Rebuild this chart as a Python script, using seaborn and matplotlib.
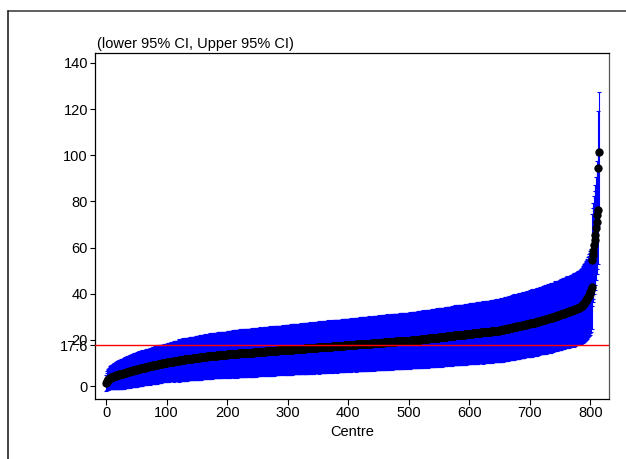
import numpy as np
import pandas as pd
import matplotlib
matplotlib.use("Agg")
import matplotlib.pyplot as plt
import seaborn as sns
from matplotlib.lines import Line2D

# ---- data (sorted centre estimates and 95% CI half-widths) ----
centre_rate = [
    1.3, 1.9, 2.3, 2.6, 2.9, 3.1, 3.3, 3.5, 3.6, 3.8,
    3.9, 4.0, 4.1, 4.2, 4.3, 4.4, 4.5, 4.6, 4.7, 4.8,
    4.9, 4.9, 5.0, 5.0, 5.1, 5.2, 5.3, 5.3, 5.4, 5.5,
    5.6, 5.6, 5.7, 5.8, 5.9, 6.0, 6.1, 6.2, 6.2, 6.3,
    6.4, 6.5, 6.5, 6.6, 6.7, 6.8, 6.8, 6.9, 7.0, 7.0,
    7.1, 7.2, 7.2, 7.3, 7.4, 7.4, 7.5, 7.6, 7.6, 7.7,
    7.8, 7.8, 7.9, 8.0, 8.0, 8.1, 8.2, 8.2, 8.3, 8.4,
    8.4, 8.5, 8.5, 8.6, 8.7, 8.7, 8.8, 8.8, 8.9, 9.0,
    9.0, 9.1, 9.1, 9.2, 9.3, 9.3, 9.4, 9.4, 9.5, 9.5,
    9.6, 9.7, 9.7, 9.8, 9.8, 9.9, 9.9, 10.0, 10.0, 10.1,
    10.1, 10.2, 10.2, 10.3, 10.3, 10.4, 10.4, 10.5, 10.5, 10.5,
    10.6, 10.6, 10.7, 10.7, 10.8, 10.8, 10.9, 10.9, 11.0, 11.0,
    11.0, 11.1, 11.1, 11.2, 11.2, 11.3, 11.3, 11.3, 11.4, 11.4,
    11.5, 11.5, 11.5, 11.6, 11.6, 11.7, 11.7, 11.7, 11.8, 11.8,
    11.8, 11.9, 11.9, 12.0, 12.0, 12.0, 12.1, 12.1, 12.1, 12.2,
    12.2, 12.2, 12.3, 12.3, 12.3, 12.4, 12.4, 12.4, 12.5, 12.5,
    12.5, 12.6, 12.6, 12.6, 12.7, 12.7, 12.7, 12.8, 12.8, 12.8,
    12.9, 12.9, 12.9, 12.9, 13.0, 13.0, 13.0, 13.1, 13.1, 13.1,
    13.1, 13.2, 13.2, 13.2, 13.3, 13.3, 13.3, 13.3, 13.4, 13.4,
    13.4, 13.4, 13.5, 13.5, 13.5, 13.5, 13.6, 13.6, 13.6, 13.6,
    13.7, 13.7, 13.7, 13.7, 13.8, 13.8, 13.8, 13.8, 13.8, 13.9,
    13.9, 13.9, 13.9, 13.9, 14.0, 14.0, 14.0, 14.0, 14.0, 14.1,
    14.1, 14.1, 14.1, 14.1, 14.2, 14.2, 14.2, 14.2, 14.2, 14.3,
    14.3, 14.3, 14.3, 14.3, 14.4, 14.4, 14.4, 14.4, 14.4, 14.5,
    14.5, 14.5, 14.5, 14.5, 14.6, 14.6, 14.6, 14.6, 14.6, 14.7,
    14.7, 14.7, 14.7, 14.7, 14.8, 14.8, 14.8, 14.8, 14.8, 14.9,
    14.9, 14.9, 14.9, 14.9, 15.0, 15.0, 15.0, 15.0, 15.0, 15.1,
    15.1, 15.1, 15.1, 15.1, 15.2, 15.2, 15.2, 15.2, 15.2, 15.3,
    15.3, 15.3, 15.3, 15.3, 15.4, 15.4, 15.4, 15.4, 15.4, 15.5,
    15.5, 15.5, 15.5, 15.5, 15.6, 15.6, 15.6, 15.6, 15.6, 15.7,
    15.7, 15.7, 15.7, 15.7, 15.8, 15.8, 15.8, 15.8, 15.8, 15.9,
    15.9, 15.9, 15.9, 15.9, 16.0, 16.0, 16.0, 16.0, 16.0, 16.1,
    16.1, 16.1, 16.1, 16.1, 16.2, 16.2, 16.2, 16.2, 16.2, 16.3,
    16.3, 16.3, 16.3, 16.3, 16.4, 16.4, 16.4, 16.4, 16.4, 16.5,
    16.5, 16.5, 16.5, 16.5, 16.6, 16.6, 16.6, 16.6, 16.6, 16.7,
    16.7, 16.7, 16.7, 16.7, 16.8, 16.8, 16.8, 16.8, 16.8, 16.9,
    16.9, 16.9, 16.9, 16.9, 17.0, 17.0, 17.0, 17.0, 17.0, 17.1,
    17.1, 17.1, 17.1, 17.1, 17.2, 17.2, 17.2, 17.2, 17.2, 17.3,
    17.3, 17.3, 17.3, 17.3, 17.4, 17.4, 17.4, 17.4, 17.4, 17.5,
    17.5, 17.5, 17.5, 17.5, 17.6, 17.6, 17.6, 17.6, 17.6, 17.7,
    17.7, 17.7, 17.7, 17.7, 17.8, 17.8, 17.8, 17.8, 17.8, 17.9,
    17.9, 17.9, 17.9, 17.9, 18.0, 18.0, 18.0, 18.0, 18.0, 18.1,
    18.1, 18.1, 18.1, 18.1, 18.2, 18.2, 18.2, 18.2, 18.2, 18.3,
    18.3, 18.3, 18.3, 18.3, 18.4, 18.4, 18.4, 18.4, 18.4, 18.5,
    18.5, 18.5, 18.5, 18.5, 18.6, 18.6, 18.6, 18.6, 18.6, 18.6,
    18.7, 18.7, 18.7, 18.7, 18.8, 18.8, 18.8, 18.8, 18.8, 18.9,
    18.9, 18.9, 18.9, 18.9, 19.0, 19.0, 19.0, 19.0, 19.0, 19.1,
    19.1, 19.1, 19.1, 19.1, 19.2, 19.2, 19.2, 19.2, 19.2, 19.3,
    19.3, 19.3, 19.3, 19.3, 19.4, 19.4, 19.4, 19.4, 19.4, 19.5,
    19.5, 19.5, 19.5, 19.5, 19.6, 19.6, 19.6, 19.6, 19.6, 19.7,
    19.7, 19.7, 19.7, 19.7, 19.8, 19.8, 19.8, 19.8, 19.8, 19.9,
    19.9, 19.9, 19.9, 20.0, 20.0, 20.0, 20.1, 20.1, 20.1, 20.1,
    20.2, 20.2, 20.2, 20.3, 20.3, 20.3, 20.4, 20.4, 20.4, 20.4,
    20.5, 20.5, 20.5, 20.6, 20.6, 20.6, 20.7, 20.7, 20.7, 20.7,
    20.8, 20.8, 20.8, 20.9, 20.9, 20.9, 21.0, 21.0, 21.0, 21.0,
    21.1, 21.1, 21.1, 21.2, 21.2, 21.2, 21.3, 21.3, 21.3, 21.3,
    21.4, 21.4, 21.4, 21.5, 21.5, 21.5, 21.6, 21.6, 21.6, 21.6,
    21.7, 21.7, 21.7, 21.8, 21.8, 21.8, 21.9, 21.9, 21.9, 21.9,
    22.0, 22.0, 22.0, 22.1, 22.1, 22.1, 22.2, 22.2, 22.2, 22.2,
    22.3, 22.3, 22.3, 22.4, 22.4, 22.4, 22.5, 22.5, 22.5, 22.5,
    22.6, 22.6, 22.6, 22.7, 22.7, 22.7, 22.8, 22.8, 22.8, 22.8,
    22.9, 22.9, 22.9, 23.0, 23.0, 23.0, 23.1, 23.1, 23.1, 23.1,
    23.2, 23.2, 23.2, 23.3, 23.3, 23.3, 23.4, 23.4, 23.4, 23.4,
    23.5, 23.5, 23.5, 23.6, 23.6, 23.6, 23.7, 23.7, 23.7, 23.7,
    23.8, 23.8, 23.8, 23.9, 23.9, 23.9, 24.0, 24.0, 24.0, 24.0,
    24.1, 24.2, 24.2, 24.3, 24.3, 24.4, 24.4, 24.5, 24.5, 24.6,
    24.7, 24.7, 24.8, 24.8, 24.9, 25.0, 25.0, 25.1, 25.1, 25.2,
    25.3, 25.3, 25.4, 25.4, 25.5, 25.6, 25.6, 25.7, 25.7, 25.8,
    25.9, 25.9, 26.0, 26.0, 26.1, 26.2, 26.2, 26.3, 26.3, 26.4,
    26.5, 26.5, 26.6, 26.6, 26.7, 26.8, 26.8, 26.9, 26.9, 27.0,
    27.1, 27.1, 27.2, 27.2, 27.3, 27.4, 27.4, 27.5, 27.5, 27.6,
    27.7, 27.8, 27.8, 27.9, 28.0, 28.0, 28.1, 28.2, 28.2, 28.3,
    28.4, 28.5, 28.6, 28.6, 28.7, 28.8, 28.9, 28.9, 29.0, 29.1,
    29.2, 29.3, 29.3, 29.4, 29.5, 29.6, 29.6, 29.7, 29.8, 29.9,
    30.0, 30.1, 30.2, 30.3, 30.3, 30.4, 30.5, 30.6, 30.7, 30.8,
    30.9, 31.0, 31.1, 31.2, 31.2, 31.3, 31.4, 31.5, 31.6, 31.7,
    31.8, 31.9, 32.0, 32.1, 32.2, 32.3, 32.4, 32.5, 32.6, 32.7,
    32.8, 32.9, 33.0, 33.1, 33.2, 33.3, 33.4, 33.5, 33.7, 33.8,
    33.9, 34.0, 34.1, 34.2, 34.3, 34.5, 34.8, 35.1, 35.4, 35.7,
    36.0, 36.4, 36.8, 37.2, 37.6, 38.0, 38.5, 39.0, 39.5, 40.0,
    40.7, 41.5, 43.0, 54.6, 56.8, 58.5, 61.1, 63.2, 65.4, 68.3,
    71.2, 74.1, 76.3, 94.3, 101.5,
]

ci_halfwidth = [
    3.3, 3.7, 4.0, 4.3, 4.5, 4.6, 4.8, 5.0, 5.0, 5.2,
    5.3, 5.3, 5.5, 5.5, 5.6, 5.7, 5.9, 5.9, 6.0, 6.1,
    6.1, 6.3, 6.2, 6.0, 6.3, 6.4, 6.5, 6.3, 6.5, 6.6,
    6.6, 6.5, 6.7, 6.8, 6.6, 6.8, 6.9, 6.8, 6.7, 7.0,
    7.0, 6.9, 7.1, 7.2, 7.0, 7.2, 7.3, 7.1, 7.3, 7.4,
    7.3, 7.5, 7.4, 7.2, 7.6, 7.5, 7.7, 7.6, 7.4, 7.8,
    7.3, 7.5, 7.4, 7.2, 7.6, 7.5, 7.7, 7.4, 7.6, 7.8,
    7.6, 7.7, 7.9, 7.5, 7.8, 7.9, 7.7, 8.0, 7.8, 8.1,
    7.9, 8.1, 7.8, 8.2, 8.0, 8.3, 8.1, 7.9, 8.2, 8.4,
    8.0, 8.2, 7.9, 8.1, 7.8, 8.2, 8.0, 8.3, 7.9, 8.1,
    8.3, 8.1, 8.4, 8.2, 8.5, 8.0, 8.3, 8.1, 8.4, 8.2,
    8.4, 8.6, 8.8, 8.3, 8.5, 8.7, 8.4, 8.6, 8.5, 8.7,
    9.0, 9.2, 8.9, 9.1, 8.8, 9.2, 9.0, 9.3, 8.9, 9.1,
    9.2, 9.0, 9.3, 9.1, 9.4, 8.9, 9.2, 9.0, 9.3, 9.1,
    9.1, 9.3, 9.5, 9.0, 9.2, 9.4, 9.1, 9.3, 9.2, 9.4,
    9.4, 9.6, 9.3, 9.5, 9.2, 9.6, 9.4, 9.7, 9.3, 9.5,
    9.6, 9.4, 9.7, 9.5, 9.8, 9.3, 9.6, 9.4, 9.7, 9.5,
    9.5, 9.7, 9.9, 9.4, 9.6, 9.8, 9.5, 9.7, 9.6, 9.8,
    9.7, 9.9, 9.6, 9.8, 9.5, 9.9, 9.7, 10.0, 9.6, 9.8,
    9.9, 9.7, 10.0, 9.8, 10.1, 9.6, 9.9, 9.7, 10.0, 9.8,
    9.9, 10.1, 10.3, 9.8, 10.0, 10.2, 9.9, 10.1, 10.0, 10.2,
    10.1, 10.3, 10.0, 10.2, 9.9, 10.3, 10.1, 10.4, 10.0, 10.2,
    10.3, 10.1, 10.4, 10.2, 10.5, 10.0, 10.3, 10.1, 10.4, 10.2,
    10.1, 10.3, 10.5, 10.0, 10.2, 10.4, 10.1, 10.3, 10.2, 10.4,
    10.3, 10.5, 10.2, 10.4, 10.1, 10.5, 10.3, 10.6, 10.2, 10.4,
    10.4, 10.2, 10.5, 10.3, 10.6, 10.1, 10.4, 10.2, 10.5, 10.3,
    10.3, 10.5, 10.7, 10.2, 10.4, 10.6, 10.3, 10.5, 10.4, 10.6,
    10.5, 10.7, 10.4, 10.6, 10.3, 10.7, 10.5, 10.8, 10.4, 10.6,
    10.6, 10.4, 10.7, 10.5, 10.8, 10.3, 10.6, 10.4, 10.7, 10.5,
    10.5, 10.7, 10.9, 10.4, 10.6, 10.8, 10.5, 10.7, 10.6, 10.8,
    10.7, 10.9, 10.6, 10.8, 10.5, 10.9, 10.7, 11.0, 10.6, 10.8,
    10.8, 10.6, 10.9, 10.7, 11.0, 10.5, 10.8, 10.6, 10.9, 10.7,
    10.7, 10.9, 11.1, 10.6, 10.8, 11.0, 10.7, 10.9, 10.8, 11.0,
    10.9, 11.1, 10.8, 11.0, 10.7, 11.1, 10.9, 11.2, 10.8, 11.0,
    11.0, 10.8, 11.1, 10.9, 11.2, 10.7, 11.0, 10.8, 11.1, 10.9,
    10.9, 11.1, 11.3, 10.8, 11.0, 11.2, 10.9, 11.1, 11.0, 11.2,
    11.1, 11.3, 11.0, 11.2, 10.9, 11.3, 11.1, 11.4, 11.0, 11.2,
    11.2, 11.0, 11.3, 11.1, 11.4, 10.9, 11.2, 11.0, 11.3, 11.1,
    11.1, 11.3, 11.5, 11.0, 11.2, 11.4, 11.1, 11.3, 11.2, 11.4,
    11.3, 11.5, 11.2, 11.4, 11.1, 11.5, 11.3, 11.6, 11.2, 11.4,
    11.4, 11.2, 11.5, 11.3, 11.6, 11.1, 11.4, 11.2, 11.5, 11.3,
    11.3, 11.5, 11.7, 11.2, 11.4, 11.6, 11.3, 11.5, 11.4, 11.6,
    11.5, 11.7, 11.4, 11.6, 11.3, 11.7, 11.5, 11.8, 11.4, 11.6,
    11.6, 11.4, 11.7, 11.5, 11.8, 11.3, 11.6, 11.4, 11.7, 11.5,
    11.5, 11.7, 11.9, 11.4, 11.6, 11.8, 11.5, 11.7, 11.6, 11.8,
    11.7, 11.9, 11.6, 11.8, 11.5, 11.9, 11.7, 12.0, 11.6, 11.8,
    11.8, 11.6, 11.9, 11.7, 12.0, 11.5, 11.8, 11.6, 11.9, 11.7,
    11.7, 11.9, 12.1, 11.6, 11.8, 12.0, 11.7, 11.9, 11.8, 12.0,
    11.9, 12.1, 11.8, 12.0, 11.7, 12.1, 11.9, 12.2, 11.8, 12.0,
    12.0, 11.8, 12.1, 11.9, 12.2, 11.7, 12.0, 11.8, 12.1, 11.9,
    11.9, 12.1, 12.3, 11.8, 12.0, 12.2, 11.9, 12.1, 12.0, 12.2,
    12.1, 12.3, 12.0, 12.2, 11.9, 12.3, 12.1, 12.4, 12.0, 12.2,
    12.3, 12.1, 12.4, 12.2, 12.5, 12.0, 12.3, 12.1, 12.4, 12.2,
    12.2, 12.4, 12.6, 12.1, 12.3, 12.5, 12.2, 12.4, 12.3, 12.5,
    12.4, 12.6, 12.3, 12.5, 12.2, 12.6, 12.4, 12.7, 12.3, 12.5,
    12.6, 12.4, 12.7, 12.5, 12.8, 12.3, 12.6, 12.4, 12.7, 12.5,
    12.5, 12.7, 12.9, 12.4, 12.6, 12.8, 12.5, 12.7, 12.6, 12.8,
    12.7, 12.9, 12.6, 12.8, 12.5, 12.9, 12.7, 13.0, 12.6, 12.8,
    12.9, 12.7, 13.0, 12.8, 13.1, 12.6, 12.9, 12.7, 13.0, 12.8,
    12.8, 13.0, 13.2, 12.7, 12.9, 13.1, 12.8, 13.0, 12.9, 13.1,
    13.0, 13.2, 12.9, 13.1, 12.8, 13.2, 13.0, 13.3, 12.9, 13.1,
    13.2, 13.0, 13.3, 13.1, 13.4, 12.9, 13.2, 13.0, 13.3, 13.1,
    13.1, 13.3, 13.5, 13.0, 13.2, 13.4, 13.1, 13.3, 13.2, 13.4,
    13.3, 13.5, 13.2, 13.4, 13.1, 13.5, 13.3, 13.6, 13.2, 13.4,
    13.5, 13.3, 13.6, 13.4, 13.7, 13.2, 13.5, 13.3, 13.6, 13.4,
    13.5, 13.7, 13.9, 13.4, 13.6, 13.8, 13.5, 13.7, 13.6, 13.8,
    13.7, 13.9, 13.6, 13.8, 13.5, 13.9, 13.7, 14.0, 13.6, 13.8,
    14.0, 13.8, 14.1, 13.9, 14.2, 13.7, 14.0, 13.8, 14.1, 13.9,
    13.9, 14.1, 14.3, 13.8, 14.0, 14.2, 13.9, 14.1, 14.0, 14.2,
    14.1, 14.3, 14.0, 14.2, 13.9, 14.3, 14.1, 14.4, 14.0, 14.2,
    14.4, 14.2, 14.5, 14.3, 14.6, 14.1, 14.4, 14.2, 14.5, 14.3,
    14.3, 14.5, 14.7, 14.2, 14.4, 14.6, 14.3, 14.5, 14.4, 14.6,
    14.6, 14.8, 14.5, 14.7, 14.4, 14.8, 14.6, 14.9, 14.5, 14.7,
    14.9, 14.7, 15.0, 14.8, 15.1, 14.6, 14.9, 14.7, 15.0, 14.8,
    14.8, 15.0, 15.2, 14.7, 14.9, 15.1, 14.8, 15.0, 14.9, 15.1,
    15.1, 15.3, 15.0, 15.2, 14.9, 15.3, 15.1, 15.4, 15.0, 15.2,
    15.4, 15.2, 15.5, 15.3, 15.6, 15.1, 15.4, 15.2, 15.5, 15.3,
    15.5, 15.7, 15.9, 15.4, 15.6, 15.8, 15.5, 15.7, 15.6, 15.8,
    15.8, 16.0, 15.9, 16.1, 16.0, 16.2, 16.3, 16.4, 16.5, 16.6,
    16.7, 16.8, 16.9, 17.0, 17.1, 17.2, 17.4, 17.5, 17.6, 17.7,
    17.9, 18.0, 18.3, 20.0, 20.4, 20.7, 21.1, 21.5, 21.8, 22.3,
    22.8, 23.2, 23.6, 25.0, 26.1,
]

reference_value = 17.6
x_ticks = [0, 100, 200, 300, 400, 500, 600, 700, 800]
y_ticks = [0, 20, 40, 60, 80, 100, 120, 140]
title_text = "(lower 95% CI, Upper 95% CI)"
x_label = "Centre"

n = min(len(centre_rate), len(ci_halfwidth))
df = pd.DataFrame({
    "rank": np.arange(n),
    "rate": centre_rate[:n],
    "hw": ci_halfwidth[:n],
})
df["lower"] = df["rate"] - df["hw"]
df["upper"] = df["rate"] + df["hw"]

# ---- style ----
sns.set_theme(style="white")
plt.rcParams["font.family"] = ["Liberation Sans", "DejaVu Sans"]

W, H = 626, 459
fig = plt.figure(figsize=(W / 100, H / 100), dpi=100)
fig.patch.set_facecolor("white")

L, R, T, B = 95, 609, 53, 399
ax = fig.add_axes([L / W, 1 - B / H, (R - L) / W, (B - T) / H])
ax.set_facecolor("white")

# error bars (CIs)
ax.errorbar(df["rank"], df["rate"],
            yerr=[df["rate"] - df["lower"], df["upper"] - df["rate"]],
            fmt="none", ecolor="#0000ff", elinewidth=0.8,
            capsize=1.6, capthick=0.8, zorder=2)

# point estimates
sns.scatterplot(data=df, x="rank", y="rate", color="black", s=36,
                linewidth=0, edgecolor="black", ax=ax, zorder=3, legend=False)

ax.axhline(reference_value, color="#ff0000", lw=1.0, zorder=4)

ax.set_xlim(-18.2, 830.6)
ax.set_ylim(-5.63, 144.3)

ax.set_xticks(x_ticks)
ax.set_xticklabels([str(t) for t in x_ticks])
yt = y_ticks + [reference_value]
ax.set_yticks(yt)
ax.set_yticklabels([str(t) for t in y_ticks] + ["17.6"])

ax.tick_params(axis="x", direction="out", length=4.3, width=0.8, pad=1.0,
               labelsize=10.5, colors="black", bottom=True)
ax.tick_params(axis="y", direction="out", length=3.6, width=0.8, pad=1.5,
               labelsize=10.5, colors="black", left=True)

for side in ["left", "bottom", "top", "right"]:
    ax.spines[side].set_visible(True)
    ax.spines[side].set_color("black")
    ax.spines[side].set_linewidth(0.9)
ax.spines["right"].set_color("#555555")

ax.set_xlabel("")
ax.set_ylabel("")
ax.grid(False)

fig.text(352 / W, 1 - 432 / H, x_label, ha="center", va="center",
         fontsize=10.5, color="black")
fig.text(97 / W, 1 - 44 / H, title_text, ha="left", va="center",
         fontsize=10.5, color="black")

# outer frame
fig.add_artist(Line2D([8 / W, 1.0], [1 - 11 / H, 1 - 11 / H],
                      transform=fig.transFigure, color="#444444", lw=1.2))
fig.add_artist(Line2D([8 / W, 8 / W], [1 - 11 / H, 0.0],
                      transform=fig.transFigure, color="#222222", lw=1.2))

fig.savefig("out.png", dpi=100, facecolor="white")
